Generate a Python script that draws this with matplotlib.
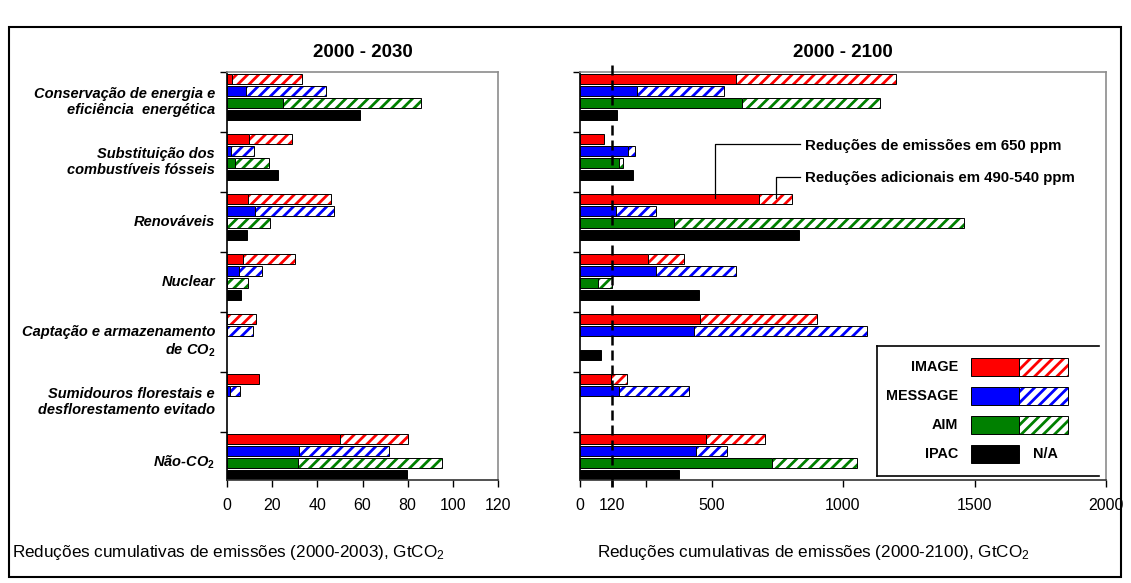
import matplotlib
matplotlib.use("Agg")
import matplotlib.pyplot as plt
import numpy as np
from matplotlib.patches import Rectangle
from matplotlib.lines import Line2D

plt.rcParams["font.family"] = ["Liberation Sans", "DejaVu Sans"]
plt.rcParams["mathtext.fontset"] = "custom"
plt.rcParams["mathtext.rm"] = "Liberation Sans"
plt.rcParams["mathtext.it"] = "Liberation Sans:italic"
plt.rcParams["mathtext.bf"] = "Liberation Sans:bold"
plt.rcParams["hatch.linewidth"] = 2.0

# categorias (de cima para baixo)
categorias = [
    "Conservação de energia e\neficiência  energética",
    "Substituição dos\ncombustíveis fósseis",
    "Renováveis",
    "Nuclear",
    "Captação e armazenamento\nde CO$_\\mathbf{2}$",
    "Sumidouros florestais e\ndesflorestamento evitado",
    "Não-CO$_\\mathbf{2}$",
]
modelos = ["IMAGE", "MESSAGE", "AIM", "IPAC"]
cores = ["#ff0000", "#0000ff", "#008000", "#000000"]

# 2000-2030: reduções em 650 ppm (base) e total com 490-540 ppm
image_2030_base = [2.1, 9.9, 9.5, 7.3, 0, 14.2, 49.9]
image_2030_total = [33.2, 28.6, 46.2, 30.2, 12.9, 14.2, 80.3]
message_2030_base = [8.4, 1.8, 12.4, 5.3, 0, 1.5, 31.7]
message_2030_total = [43.9, 11.9, 47.4, 15.4, 11.4, 5.9, 71.7]
aim_2030_base = [24.6, 3.7, 0, 0, 0, 0, 31.3]
aim_2030_total = [85.9, 18.5, 19.1, 9.5, 0, 0, 95.0]
ipac_2030 = [59.1, 22.4, 9.0, 6.2, 0, 0, 79.9]

# 2000-2100
image_2100_base = [592, 92, 679, 257, 458, 117, 479]
image_2100_total = [1202, 92, 807, 397, 900, 180, 705]
message_2100_base = [215, 181, 136, 289, 432, 150, 441]
message_2100_total = [548, 210, 289, 592, 1090, 415, 558]
aim_2100_base = [617, 150, 359, 70, 0, 0, 730]
aim_2100_total = [1142, 162, 1460, 120, 0, 0, 1054]
ipac_2100 = [142, 203, 831, 454, 79, 0, 378]

W, H = 1131, 583


def fx(px):
    return px / W


def fy(py):
    return 1 - py / H


fig = plt.figure(figsize=(W / 100, H / 100), dpi=100)
ax1 = fig.add_axes([fx(227), fy(480), 271 / W, 408 / H])
ax2 = fig.add_axes([fx(580), fy(480), 526 / W, 408 / H])

h = 0.165
HATCH = "///"


def desenha(ax, bases, totais, ipac):
    for k in range(3):
        base = np.array(bases[k], dtype=float)
        total = np.array(totais[k], dtype=float)
        y = np.arange(7) + 0.115 + 0.2 * k
        m = base > 0
        ax.barh(y[m], base[m], height=h, color=cores[k], edgecolor="black", linewidth=0.7)
        extra = total - base
        m = extra > 0
        ax.barh(y[m], extra[m], left=base[m], height=h, color="white",
                edgecolor=cores[k], hatch=HATCH, linewidth=0)
        ax.barh(y[m], extra[m], left=base[m], height=h, fill=False,
                edgecolor="black", linewidth=0.7)
    ipac = np.array(ipac, dtype=float)
    y = np.arange(7) + 0.115 + 0.6
    m = ipac > 0
    ax.barh(y[m], ipac[m], height=h, color="black", edgecolor="black", linewidth=0.7)

    ax.set_ylim(6.8, 0)
    ax.set_yticks(range(7))
    ax.set_yticklabels([])
    ax.tick_params(axis="y", direction="out", length=5, width=1)
    ax.tick_params(axis="x", direction="out", length=5, width=1, labelsize=11.5, pad=8)
    ax.spines["top"].set_color("#8c8c8c")
    ax.spines["right"].set_color("#8c8c8c")
    ax.spines["left"].set_color("black")
    ax.spines["bottom"].set_color("#333333")
    for s in ax.spines.values():
        s.set_linewidth(1.2)


desenha(ax1, [image_2030_base, message_2030_base, aim_2030_base],
        [image_2030_total, message_2030_total, aim_2030_total], ipac_2030)
desenha(ax2, [image_2100_base, message_2100_base, aim_2100_base],
        [image_2100_total, message_2100_total, aim_2100_total], ipac_2100)

ax1.set_xlim(0, 120)
ax1.set_xticks(range(0, 121, 20))
ax2.set_xlim(0, 2000)
ax2.set_xticks([0, 120, 250, 500, 1000, 1500, 2000])
ax2.set_xticklabels(["0", "120", "", "500", "1000", "1500", "2000"])
ax2.xaxis.get_major_ticks()[1].tick1line.set_markeredgewidth(2)

# linha tracejada em 120 GtCO2
ax2.plot([120, 120], [6.8, -0.17], color="black", lw=1.8,
         linestyle=(0, (4, 2)), clip_on=False, zorder=5)

# rótulos das categorias
for i, c in enumerate(categorias):
    ax1.text(-0.044, i + 0.5, c, transform=ax1.get_yaxis_transform(),
             ha="right", va="center", fontsize=10.5, fontweight="bold",
             fontstyle="italic", linespacing=1.25, multialignment="right")

ax1.text(0.5, 1.047, "2000 - 2030", transform=ax1.transAxes, ha="center",
         va="center", fontsize=13.5, fontweight="bold")
ax2.text(0.5, 1.047, "2000 - 2100", transform=ax2.transAxes, ha="center",
         va="center", fontsize=13.5, fontweight="bold")

fig.text(fx(12), fy(553), "Reduções cumulativas de emissões (2000-2003), GtCO$_2$",
         ha="left", va="center", fontsize=12.3)
fig.text(fx(597), fy(553), "Reduções cumulativas de emissões (2000-2100), GtCO$_2$",
         ha="left", va="center", fontsize=12.3)

# anotações
ax2.plot([513, 513, 836], [2.1, 1.2, 1.2], color="black", lw=0.9)
ax2.plot([745, 745, 836], [2.1, 1.75, 1.75], color="black", lw=0.9)
ax2.text(855, 1.24, "Reduções de emissões em 650 ppm", ha="left", va="center",
         fontsize=10.8, fontweight="bold")
ax2.text(855, 1.76, "Reduções adicionais em 490-540 ppm", ha="left", va="center",
         fontsize=10.8, fontweight="bold")

# legenda
for px, py in [((877, 1099), (346, 346)), ((877, 877), (346, 476)), ((877, 1099), (476, 476))]:
    fig.add_artist(Line2D([fx(px[0]), fx(px[1])], [fy(py[0]), fy(py[1])],
                          color="black", lw=1.2, transform=fig.transFigure))
leg_y = [(358, 376), (387, 405), (416, 434), (445, 463)]
for k, nome in enumerate(modelos):
    y0, y1 = leg_y[k]
    fig.text(fx(958), fy((y0 + y1) / 2), nome, ha="right", va="center",
             fontsize=10.4, fontweight="bold")
    fig.add_artist(Rectangle((fx(971), fy(y1)), 48 / W, (y1 - y0) / H,
                             facecolor=cores[k], edgecolor="black", lw=0.7,
                             transform=fig.transFigure))
    if k < 3:
        fig.add_artist(Rectangle((fx(1019), fy(y1)), 49 / W, (y1 - y0) / H,
                                 facecolor="white", edgecolor=cores[k], hatch=HATCH,
                                 lw=0, transform=fig.transFigure))
        fig.add_artist(Rectangle((fx(1019), fy(y1)), 49 / W, (y1 - y0) / H,
                                 fill=False, edgecolor="black", lw=0.7,
                                 transform=fig.transFigure))
    else:
        fig.text(fx(1033), fy((y0 + y1) / 2), "N/A", ha="left", va="center",
                 fontsize=10.4, fontweight="bold")

# moldura
fig.add_artist(Rectangle((fx(9), fy(577)), 1112 / W, 550 / H, fill=False,
                         edgecolor="black", lw=1.5, transform=fig.transFigure))

fig.savefig("out.png", dpi=100)
